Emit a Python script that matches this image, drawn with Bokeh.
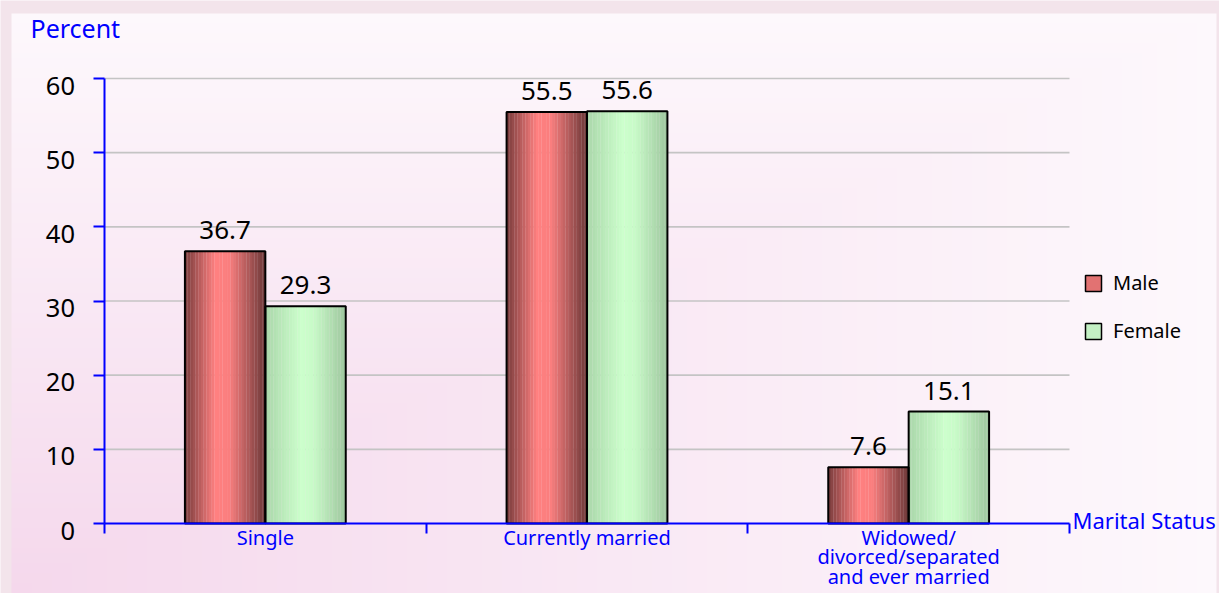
import numpy as np
from bokeh.plotting import figure
from bokeh.models import (FixedTicker, Legend, LegendItem, Label, LabelSet,
                          ColumnDataSource, Range1d)
from bokeh.core.properties import value
from bokeh.embed import file_html
from bokeh.resources import INLINE

# ---------------- data ----------------
categories = ["Single", "Currently married", "Widowed/\ndivorced/separated\nand ever married"]
male = [36.7, 55.5, 7.6]
female = [29.3, 55.6, 15.1]
series_names = ["Male", "Female"]
y_ticks = [0, 10, 20, 30, 40, 50, 60]
y_tick_labels = ["0", "10", "20", "30", "40", "50", "60"]
y_title = "Percent"
x_title = "Marital Status"

# ---------------- style / layout (pixels) ----------------
FONT = "Noto Sans"
BLUE = "#0000ff"
W, H = 1219, 593            # canvas
AX_X, AX_Y0, AX_Y60 = 104, 523, 78   # y axis x position, pixel rows of 0 and 60
AX_XEND = 1069
PXX = (AX_XEND - AX_X) / 3.0          # pixels per category
PXY = (AX_Y0 - AX_Y60) / 60.0         # pixels per percent
BAR_W = 0.25
N_STRIPS = 30
RING = "#f3e4eb"
BG_CORNER = (245, 216, 236)   # bottom-left of panel
BG_FAR = (253, 248, 252)      # elsewhere
male_stops = [(0.0, (120, 60, 60)), (0.38, (255, 128, 128)), (0.55, (250, 126, 126)), (1.0, (108, 56, 56))]
female_stops = [(0.0, (170, 214, 170)), (0.45, (204, 255, 204)), (0.6, (200, 250, 200)), (1.0, (158, 198, 158))]


def dx(px):
    return (px - AX_X) / PXX


def dy(py):
    return (AX_Y0 - py) / PXY


def shade(stops, t):
    for (t0, c0), (t1, c1) in zip(stops[:-1], stops[1:]):
        if t0 <= t <= t1:
            f = (t - t0) / (t1 - t0) if t1 > t0 else 0
            c = [round(a + (b - a) * f) for a, b in zip(c0, c1)]
            return "#%02x%02x%02x" % tuple(c)
    return "#%02x%02x%02x" % stops[-1][1]


p = figure(width=W, height=H, title=None,
           min_border_left=0, min_border_right=0, min_border_top=0, min_border_bottom=0,
           x_range=Range1d(dx(0), dx(W)), y_range=Range1d(dy(H), dy(0)),
           output_backend="svg", toolbar_location=None)
p.background_fill_color = RING
p.border_fill_color = RING
p.outline_line_color = None

# panel background: gradient from bottom-left corner
PL, PT, PR = 11, 13, 1216
nx, ny = 241, 116
img = np.empty((ny, nx), dtype=np.uint32)
view = img.view(dtype=np.uint8).reshape((ny, nx, 4))
u = np.linspace(0, 1, nx)[None, :]
v = np.linspace(0, 1, ny)[:, None]   # row 0 = bottom
t = np.clip(np.maximum(u, v), 0, 1)
for ch in range(3):
    view[:, :, ch] = np.round(BG_CORNER[ch] + (BG_FAR[ch] - BG_CORNER[ch]) * t).astype(np.uint8)
view[:, :, 3] = 255
p.image_rgba(image=[img], x=dx(PL), y=dy(H), dw=dx(PR) - dx(PL), dh=dy(PT) - dy(H), level="image")

# horizontal grid lines between the axis and the end of the category axis
n_cat = len(categories)
p.segment(x0=[0] * (len(y_ticks) - 1), x1=[n_cat] * (len(y_ticks) - 1),
          y0=y_ticks[1:], y1=y_ticks[1:], line_color="#c4c4c4", line_width=1.6)
p.xgrid.grid_line_color = None
p.ygrid.grid_line_color = None

# y axis (labels drawn below as a label set, slightly below each tick as in the original)
yax = p.yaxis[0]
yax.fixed_location = 0
yax.ticker = FixedTicker(ticks=y_ticks)
yax.bounds = (0, 60)
yax.axis_line_color = BLUE
yax.axis_line_width = 2
yax.major_tick_line_color = BLUE
yax.major_tick_line_width = 2
yax.major_tick_out = 11
yax.major_tick_in = 0
yax.minor_tick_line_color = None
yax.major_label_overrides = {tk: "" for tk in y_ticks}
yax.major_label_text_font_size = "0px"

ytl_src = ColumnDataSource(dict(x=[0] * len(y_ticks), y=y_ticks, t=y_tick_labels))
p.add_layout(LabelSet(x="x", y="y", text="t", source=ytl_src, x_offset=-29.5, y_offset=-7,
                      text_align="right", text_baseline="middle",
                      text_font=value(FONT), text_font_size=value("25.5px"),
                      text_color="black"))

# x axis: category labels at centres, boundary ticks as minor ticks
centers = [i + 0.5 for i in range(n_cat)]
xax = p.xaxis[0]
xax.fixed_location = 0
xax.ticker = FixedTicker(ticks=centers, minor_ticks=list(range(n_cat + 1)))
xax.major_label_overrides = {c: name for c, name in zip(centers, categories)}
xax.bounds = (0, n_cat)
xax.axis_line_color = BLUE
xax.axis_line_width = 2
xax.major_tick_line_color = None
xax.major_tick_out = 0
xax.major_tick_in = 0
xax.minor_tick_line_color = BLUE
xax.minor_tick_line_width = 2
xax.minor_tick_out = 10
xax.minor_tick_in = 0
xax.major_label_standoff = -10
xax.major_label_text_font = FONT
xax.major_label_text_font_size = "20px"
xax.major_label_text_color = BLUE
xax.major_label_text_line_height = 0.74

# bars (gradient strips + outline)
for vals, off, stops in ((male, -BAR_W / 2, male_stops), (female, BAR_W / 2, female_stops)):
    xs, tops, cols = [], [], []
    for c, val in zip(centers, vals):
        left = c + off - BAR_W / 2
        for k in range(N_STRIPS):
            tt = (k + 0.5) / N_STRIPS
            xs.append(left + tt * BAR_W)
            tops.append(val)
            cols.append(shade(stops, tt))
    p.vbar(x=xs, top=tops, bottom=0, width=BAR_W / N_STRIPS * 1.08,
           fill_color=cols, line_color=None)

male_x = [c - BAR_W / 2 for c in centers]
female_x = [c + BAR_W / 2 for c in centers]
p.vbar(x=male_x, top=male, bottom=0, width=BAR_W, fill_alpha=0, line_color="black", line_width=2)
p.vbar(x=female_x, top=female, bottom=0, width=BAR_W, fill_alpha=0, line_color="black", line_width=2)

# value labels
lab_src = ColumnDataSource(dict(x=male_x + female_x, y=male + female,
                                t=["%.1f" % v for v in male + female]))
p.add_layout(LabelSet(x="x", y="y", text="t", source=lab_src, y_offset=12,
                      text_align="center", text_baseline="alphabetic",
                      text_font=value(FONT), text_font_size=value("26px"),
                      text_color="black"))

# axis titles
p.add_layout(Label(x=0, y=60, x_offset=-74, y_offset=51, text=y_title,
                   text_align="left", text_baseline="middle",
                   text_font=FONT, text_font_size="25px", text_color=BLUE))
p.add_layout(Label(x=n_cat, y=0, x_offset=3, y_offset=4, text=x_title,
                   text_align="left", text_baseline="middle",
                   text_font=FONT, text_font_size="22px", text_color=BLUE))

# legend (one-point swatch renderers of zero size sitting on the axis)
r_m = p.vbar(x=[male_x[0]], top=[0], bottom=[0], width=0, fill_color="#e27272",
             line_color="black", line_width=1.5)
r_f = p.vbar(x=[female_x[0]], top=[0], bottom=[0], width=0, fill_color="#c4f0c4",
             line_color="black", line_width=1.5)
legend = Legend(items=[LegendItem(label=series_names[0], renderers=[r_m]),
                       LegendItem(label=series_names[1], renderers=[r_f])],
                location=(1083, 249), glyph_width=20, glyph_height=20, label_height=18,
                label_standoff=10, spacing=21, padding=0, margin=0,
                label_text_font=FONT, label_text_font_size="20px", label_text_color="black",
                border_line_alpha=0, background_fill_alpha=0)
p.add_layout(legend)

open("out.html", "w").write(file_html(p, INLINE))
